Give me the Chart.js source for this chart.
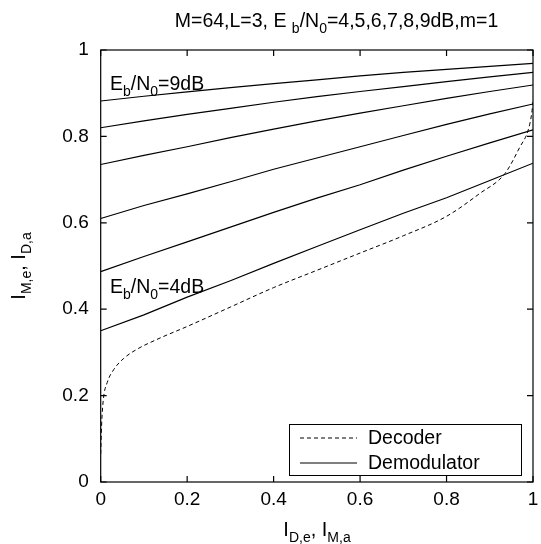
<!DOCTYPE html>
<html>
<head>
<meta charset="utf-8">
<script src="https://cdn.jsdelivr.net/npm/chart.js@4.4.0/dist/chart.umd.min.js"></script>
<style>
  html, body { margin: 0; padding: 0; background: #fff; }
  #wrap { width: 541px; height: 544px; }
</style>
</head>
<body>
<div id="wrap"><canvas id="chartExit"></canvas></div>
<script>
// x grid shared by the demodulator curves
var xDemod = [0, 0.1, 0.2, 0.3, 0.4, 0.5, 0.6, 0.7, 0.8, 0.9, 1];

var demod4dB = [0.350, 0.387, 0.428, 0.466, 0.506, 0.545, 0.584, 0.622, 0.658, 0.698, 0.738];
var demod5dB = [0.487, 0.522, 0.556, 0.590, 0.624, 0.657, 0.688, 0.722, 0.754, 0.785, 0.815];
var demod6dB = [0.610, 0.640, 0.667, 0.695, 0.724, 0.750, 0.776, 0.802, 0.828, 0.852, 0.875];
var demod7dB = [0.735, 0.756, 0.776, 0.797, 0.817, 0.836, 0.854, 0.871, 0.888, 0.904, 0.919];
var demod8dB = [0.820, 0.836, 0.851, 0.865, 0.879, 0.892, 0.904, 0.915, 0.927, 0.938, 0.948];
var demod9dB = [0.882, 0.893, 0.903, 0.913, 0.922, 0.931, 0.940, 0.948, 0.955, 0.962, 0.969];

var xDecoder = [0, 0.002, 0.006, 0.015, 0.03, 0.052, 0.08, 0.13, 0.2, 0.3, 0.4, 0.5, 0.6, 0.7, 0.8, 0.877, 0.935, 0.97, 0.989, 0.997, 1];
var yDecoder = [0.065, 0.13, 0.19, 0.23, 0.26, 0.285, 0.305, 0.33, 0.36, 0.405, 0.45, 0.49, 0.53, 0.57, 0.615, 0.668, 0.714, 0.776, 0.815, 0.853, 0.88];

var axisTicks = [0, 0.2, 0.4, 0.6, 0.8, 1];

var FONT = "'Liberation Sans', Arial, Helvetica, sans-serif";

function pts(xs, ys) {
    return xs.map(function (x, i) {
        return { x: x, y: ys[i] };
    });
}

function demodSet(ys) {
    return {
        label: "Demodulator",
        data: pts(xDemod, ys),
        borderColor: "#000",
        borderWidth: 1.2,
        pointRadius: 0,
        fill: false,
        tension: 0,
    };
}

// draw text made of normal and subscript pieces
function drawRich(ctx, parts, x, y, size, align) {
    var subSize = Math.round(size * 0.72);
    var w = 0;
    parts.forEach(function (p) {
        ctx.font = (p.sub ? subSize : size) + "px " + FONT;
        w += ctx.measureText(p.t).width;
    });
    var cx = x;
    if (align === "center") cx = x - w / 2;
    ctx.textBaseline = "alphabetic";
    ctx.textAlign = "left";
    parts.forEach(function (p) {
        ctx.font = (p.sub ? subSize : size) + "px " + FONT;
        ctx.fillText(p.t, cx, p.sub ? y + size * 0.3 : y);
        cx += ctx.measureText(p.t).width;
    });
}

var framePlugin = {
    id: "frame",
    afterDraw: function (chart) {
        var ctx = chart.ctx;
        var a = chart.chartArea;
        var xs = chart.scales.x;
        var ys = chart.scales.y;
        ctx.save();
        ctx.strokeStyle = "#000";
        ctx.lineWidth = 1.2;
        ctx.strokeRect(a.left, a.top, a.right - a.left, a.bottom - a.top);

        // inward ticks on all four sides
        var tl = 6;
        ctx.beginPath();
        axisTicks.forEach(function (v) {
            var px = xs.getPixelForValue(v);
            ctx.moveTo(px, a.bottom);
            ctx.lineTo(px, a.bottom - tl);
            ctx.moveTo(px, a.top);
            ctx.lineTo(px, a.top + tl);
            var py = ys.getPixelForValue(v);
            ctx.moveTo(a.left, py);
            ctx.lineTo(a.left + tl, py);
            ctx.moveTo(a.right, py);
            ctx.lineTo(a.right - tl, py);
        });
        ctx.stroke();

        ctx.fillStyle = "#000";
        // title
        drawRich(ctx, [
            { t: "M=64,L=3, E " }, { t: "b", sub: true }, { t: "/N" },
            { t: "0", sub: true }, { t: "=4,5,6,7,8,9dB,m=1" }
        ], 336.5, 27, 19.5, "center");

        // curve labels
        drawRich(ctx, [
            { t: "E" }, { t: "b", sub: true }, { t: "/N" }, { t: "0", sub: true }, { t: "=9dB" }
        ], 110, 90, 19.5, "left");
        drawRich(ctx, [
            { t: "E" }, { t: "b", sub: true }, { t: "/N" }, { t: "0", sub: true }, { t: "=4dB" }
        ], 110, 293, 19.5, "left");

        // axis titles
        drawRich(ctx, [
            { t: "I" }, { t: "D,e", sub: true }, { t: ", I" }, { t: "M,a", sub: true }
        ], 317, 536, 20, "center");
        ctx.save();
        ctx.translate(25, 266);
        ctx.rotate(-Math.PI / 2);
        drawRich(ctx, [
            { t: "I" }, { t: "M,e", sub: true }, { t: ", I" }, { t: "D,a", sub: true }
        ], 0, 0, 20, "center");
        ctx.restore();

        // legend box
        var lx = 289, ly = 424, lw = 232, lh = 51;
        ctx.fillStyle = "#fff";
        ctx.fillRect(lx, ly, lw, lh);
        ctx.lineWidth = 1;
        ctx.strokeRect(lx + 0.5, ly + 0.5, lw, lh);
        var entries = [
            { name: "Decoder", ds: chart.data.datasets[0] },
            { name: "Demodulator", ds: chart.data.datasets[1] },
        ];
        entries.forEach(function (e, i) {
            var yy = 438 + i * 25;
            ctx.beginPath();
            ctx.setLineDash(e.ds.borderDash || []);
            ctx.lineWidth = e.ds.borderWidth;
            ctx.moveTo(300, yy);
            ctx.lineTo(357, yy);
            ctx.stroke();
            ctx.setLineDash([]);
            ctx.fillStyle = "#000";
            ctx.font = "19.5px " + FONT;
            ctx.textBaseline = "alphabetic";
            ctx.textAlign = "left";
            ctx.fillText(e.name, 368, yy + 6);
        });
        ctx.restore();
    },
};

var datasets = [
    {
        label: "Decoder",
        data: pts(xDecoder, yDecoder),
        borderColor: "#000",
        borderWidth: 1,
        borderDash: [4, 3],
        pointRadius: 0,
        fill: false,
        cubicInterpolationMode: "monotone",
    },
    demodSet(demod4dB),
    demodSet(demod5dB),
    demodSet(demod6dB),
    demodSet(demod7dB),
    demodSet(demod8dB),
    demodSet(demod9dB),
];

var ctx = document.getElementById("chartExit").getContext("2d");

var tickFont = { family: FONT, size: 19 };

function fmtTick(v) {
    return String(Number(v.toFixed(1)));
}

var myChart = new Chart(ctx, {
    type: "line",
    data: { datasets: datasets },
    plugins: [framePlugin],
    options: {
        responsive: true,
        maintainAspectRatio: false,
        animation: false,
        layout: { padding: { left: 0, right: 8, top: 50, bottom: 0 } },
        plugins: {
            legend: { display: false },
            tooltip: { enabled: false },
        },
        scales: {
            x: {
                type: "linear",
                min: 0,
                max: 1,
                border: { display: false },
                grid: { display: false, drawTicks: false },
                ticks: {
                    stepSize: 0.2,
                    color: "#000",
                    font: tickFont,
                    padding: 6,
                    maxRotation: 0,
                    callback: fmtTick,
                },
                afterFit: function (s) {
                    s.height = 62;
                    s.paddingLeft = 0;
                    s.paddingRight = 0;
                },
            },
            y: {
                min: 0,
                max: 1,
                border: { display: false },
                grid: { display: false, drawTicks: false },
                ticks: {
                    stepSize: 0.2,
                    color: "#000",
                    font: tickFont,
                    padding: 12,
                    callback: fmtTick,
                },
                afterFit: function (s) {
                    s.width = 100.7;
                    s.paddingTop = 0;
                    s.paddingBottom = 0;
                },
            },
        },
    },
});
</script>
</body>
</html>
